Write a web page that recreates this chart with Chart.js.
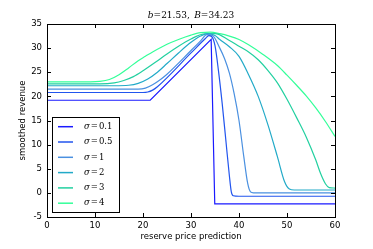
<!DOCTYPE html>
<html>
<head>
<meta charset="utf-8">
<script src="https://cdn.jsdelivr.net/npm/chart.js@4.4.1/dist/chart.umd.min.js"></script>
<style>
html, body { margin: 0; padding: 0; background: #fff; }
</style>
</head>
<body>
<canvas id="chart1" width="373" height="249"></canvas>
<script>
// values
var sigmaLabels = ['0.1', '0.5', '1', '2', '3', '4'];

var r01 = [0, 21.5, 34.2, 34.95, 60];
var v01 = [19.2, 19.2, 31.8, -2.3, -2.3];

var r05 = [0, 20, 21, 22, 23, 30, 33, 33.7, 34.3, 35, 35.7, 36.5, 37.3, 38, 38.4, 38.8, 40, 60];
var v05 = [20.8, 20.8, 20.9, 21.3, 22.0, 29.0, 32.0, 32.6, 32.4, 30.5, 25.5, 18.5, 10.5, 3.5, 0.2, -0.6, -0.7, -0.7];

var r1 = [0, 19, 20.5, 22, 23.5, 25, 30, 32, 33.3, 34.5, 36, 37, 38, 39, 40, 41, 41.8, 42.4, 43, 60];
var v1 = [21.5, 21.5, 21.7, 22.4, 23.4, 24.6, 29.5, 31.5, 32.8, 32.6, 30.0, 27.8, 24.8, 20.5, 15, 7.5, 2, 0.2, 0, 0];

var r2 = [0, 14, 17, 19, 21, 23, 25, 27.4, 30, 32, 33.5, 35, 36, 38, 40, 42, 44, 46, 48, 49.5, 50.5, 51.5, 60];
var v2 = [22.2, 22.2, 22.3, 22.7, 23.6, 25, 26.8, 29, 31.2, 32.5, 33.0, 32.6, 31.8, 30.3, 28.3, 24.5, 20, 14.2, 7.5, 2.3, 0.8, 0.6, 0.6];

var r3 = [0, 11, 14, 16, 18, 20, 22.5, 25, 27.4, 30, 32.5, 35, 38, 40, 42, 44, 46, 48, 50, 52, 54, 56, 57, 58, 58.8, 60];
var v3 = [22.6, 22.6, 22.8, 23.3, 24.1, 25.3, 27, 28.8, 30.4, 31.9, 32.9, 33.0, 31.6, 30.4, 29.2, 27.6, 25.4, 22.8, 19.4, 15.6, 11.6, 6.8, 4.0, 1.9, 1.1, 1.0];

var r4 = [0, 9, 11, 13, 15, 17, 19, 20.5, 22, 25, 27.4, 30, 32, 34, 36, 38, 40, 42, 45, 48, 50, 52, 54, 56, 58, 60];
var v4 = [23.0, 23.0, 23.1, 23.5, 24.5, 25.9, 27.4, 28.3, 29.2, 30.8, 31.8, 32.7, 33.2, 33.3, 33.0, 32.5, 31.8, 30.7, 28.7, 26.4, 24.4, 22.3, 20.1, 17.6, 14.8, 11.7];

var xTicks = [0, 10, 20, 30, 40, 50, 60];
var yTicks = [-5, 0, 5, 10, 15, 20, 25, 30, 35];

var colors = ['#1a1aff', '#2255ee', '#4a90e0', '#22aac8', '#22d0a0', '#33ff99'];

function pts(xs, ys) {
    return xs.map(function (x, i) { return { x: x, y: ys[i] }; });
}

var series = [[r01, v01], [r05, v05], [r1, v1], [r2, v2], [r3, v3], [r4, v4]];

var datasets = series.map(function (s, i) {
    return {
        label: sigmaLabels[i],
        data: pts(s[0], s[1]),
        borderColor: colors[i],
        backgroundColor: colors[i],
        borderWidth: 1.2,
        pointRadius: 0,
        fill: false,
        cubicInterpolationMode: i === 0 ? 'default' : 'monotone',
        tension: 0
    };
});

var tickFont = { family: 'DejaVu Sans', size: 8.5 };

// ticks inside, frame and the legend box, matplotlib style
var mplPlugin = {
    id: 'mpl',
    afterDatasetsDraw: function (chart) {
        var c = chart.ctx, a = chart.chartArea;
        var xs = chart.scales.x, ys = chart.scales.y;
        c.save();
        c.strokeStyle = '#000';
        c.lineWidth = 1;
        c.beginPath();
        xTicks.forEach(function (t) {
            var px = Math.round(xs.getPixelForValue(t)) + 0.5;
            c.moveTo(px, a.bottom); c.lineTo(px, a.bottom - 4);
            c.moveTo(px, a.top); c.lineTo(px, a.top + 4);
        });
        yTicks.forEach(function (t) {
            var py = Math.round(ys.getPixelForValue(t)) + 0.5;
            c.moveTo(a.left, py); c.lineTo(a.left + 4, py);
            c.moveTo(a.right, py); c.lineTo(a.right - 4, py);
        });
        c.stroke();
        c.strokeRect(Math.round(a.left) + 0.5, Math.round(a.top) + 0.5,
            Math.round(a.right - a.left), Math.round(a.bottom - a.top));

        // title with italic b and B
        var parts = [['b', true], ['=21.53,\u2002', false], ['B', true], ['=34.23', false]];
        c.fillStyle = '#000';
        c.textBaseline = 'middle';
        var widths = parts.map(function (p) {
            c.font = (p[1] ? 'italic ' : '') + '9px "DejaVu Serif"';
            return c.measureText(p[0]).width;
        });
        var total = widths.reduce(function (s, w) { return s + w; }, 0);
        var tx = (a.left + a.right) / 2 - total / 2;
        parts.forEach(function (p, i) {
            c.font = (p[1] ? 'italic ' : '') + '9px "DejaVu Serif"';
            c.fillText(p[0], tx, 16);
            tx += widths[i];
        });

        // legend
        var lx = 52.5, ly = 117.5, lw = 67, lh = 95;
        c.fillStyle = '#fff';
        c.fillRect(lx, ly, lw, lh);
        c.strokeStyle = '#000';
        c.strokeRect(lx, ly, lw, lh);
        chart.data.datasets.forEach(function (ds, i) {
            var y = 126.7 + i * 15.3;
            c.strokeStyle = ds.borderColor;
            c.lineWidth = 1.5;
            c.beginPath();
            c.moveTo(58, y); c.lineTo(73, y);
            c.stroke();
            c.fillStyle = '#000';
            c.font = 'italic 8.5px "DejaVu Serif"';
            var x = 84;
            c.fillText('\u03c3', x, y);
            x += c.measureText('\u03c3').width + 1;
            c.font = '8.5px "DejaVu Serif"';
            c.fillText('=', x, y);
            x += c.measureText('=').width + 1;
            c.fillText(ds.label, x, y);
        });
        c.restore();
    }
};

var ctx1 = document.getElementById('chart1').getContext('2d');
var chart1 = new Chart(ctx1, {
    type: 'line',
    data: { datasets: datasets },
    options: {
        responsive: false,
        animation: false,
        layout: { padding: { top: 24, right: 38, left: 0, bottom: 0 } },
        plugins: {
            legend: { display: false },
            tooltip: { enabled: false }
        },
        scales: {
            x: {
                type: 'linear',
                min: 0,
                max: 60,
                afterFit: function (s) { s.height = 32; },
                afterBuildTicks: function (s) { s.ticks = xTicks.map(function (v) { return { value: v }; }); },
                grid: { display: false, drawTicks: false },
                border: { display: false },
                ticks: { color: '#000', font: tickFont, padding: 4, maxRotation: 0 },
                title: {
                    display: true,
                    text: 'reserve price prediction',
                    color: '#000',
                    font: tickFont,
                    padding: { top: 0, bottom: 7 }
                }
            },
            y: {
                min: -5,
                max: 35,
                afterFit: function (s) { s.width = 47; },
                afterBuildTicks: function (s) { s.ticks = yTicks.map(function (v) { return { value: v }; }); },
                grid: { display: false, drawTicks: false },
                border: { display: false },
                ticks: { color: '#000', font: tickFont, padding: 5 },
                title: {
                    display: true,
                    text: 'smoothed revenue',
                    color: '#000',
                    font: tickFont,
                    padding: { top: 18, bottom: 0 }
                }
            }
        }
    },
    plugins: [mplPlugin]
});
</script>
</body>
</html>
